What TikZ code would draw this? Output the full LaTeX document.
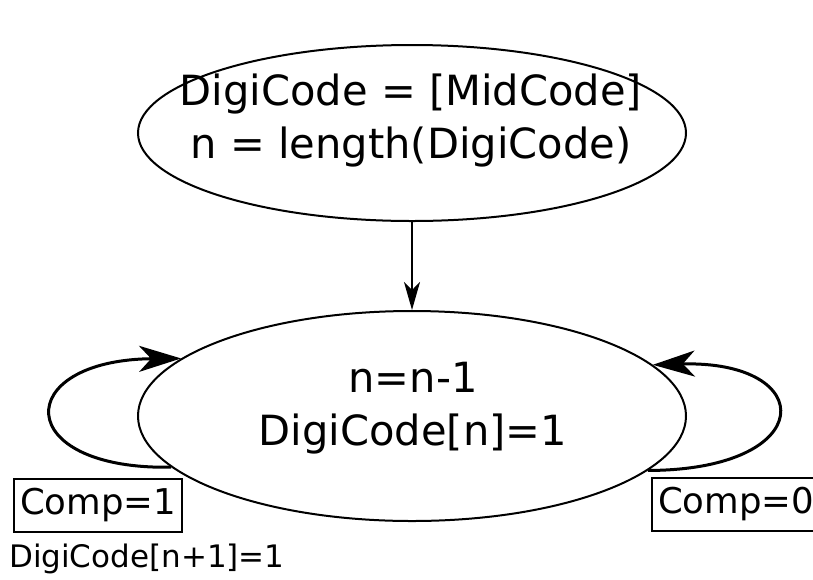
\documentclass[tikz,border=0pt]{standalone}
\usepackage{fontspec}
\setmainfont{DejaVu Sans}
\usetikzlibrary{shapes.geometric,arrows.meta}
\tikzset{
  stateell/.style={draw, ellipse, inner sep=0pt, line width=2pt},
  bigtxt/.style={align=center, font=\fontsize{41.6}{53}\selectfont, inner sep=0pt},
  compbox/.style={draw, line width=2pt, minimum width=168pt, minimum height=53pt, inner sep=0pt, font=\fontsize{35.5}{40}\selectfont},
  loopline/.style={line width=3pt, -{Stealth[length=42pt,width=26pt,inset=12pt]}},
  downarrow/.style={line width=1.8pt, -{Stealth[length=28pt,width=16pt,inset=8pt]}}
}
\begin{document}
\begin{tikzpicture}[x=1pt,y=-1pt]
\useasboundingbox (0,0) rectangle (813,579);
\node[stateell, minimum width=548pt, minimum height=176pt] (top) at (412,133) {};
\node[bigtxt] (toptxt) at (411,121) {DigiCode = [MidCode]\\n = length(DigiCode)};
\node[stateell, minimum width=548pt, minimum height=210pt] (bot) at (412,416) {};
\node[bigtxt] (bottxt) at (413,408) {n=n-1\\DigiCode[n]=1};
\draw[downarrow] (top.south) -- (bot.north);
\draw[loopline] (bot.192.5) .. controls (11,470) and (11,360) .. (bot.166.9);
\draw[loopline] (bot.347.4) .. controls (819,470) and (819,360) .. (bot.12.8);
\node[compbox] (c1) at (98,505.5) {Comp=1};
\node[compbox] (c0) at (736,504) {Comp=0};
\node[anchor=base west, inner sep=0pt, font=\fontsize{31}{36}\selectfont] (note) at (9,567) {DigiCode[n+1]=1};
\end{tikzpicture}
\end{document}
